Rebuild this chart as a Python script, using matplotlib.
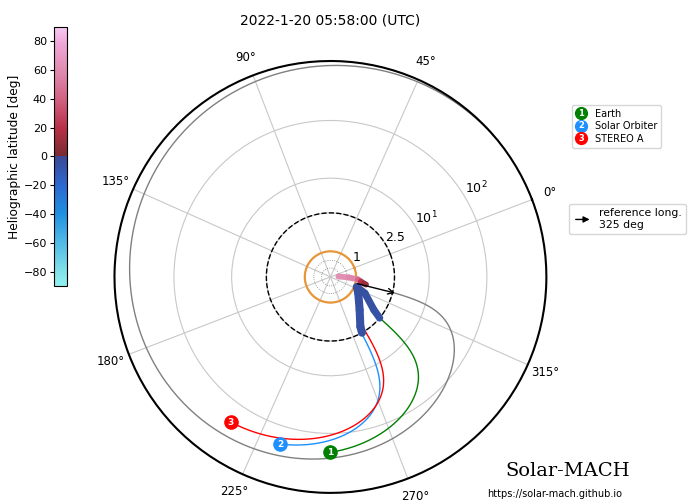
import numpy as np
import matplotlib
matplotlib.use("Agg")
import matplotlib.pyplot as plt
from matplotlib.colors import LinearSegmentedColormap, Normalize
from matplotlib.collections import LineCollection
from matplotlib.legend_handler import HandlerBase
from matplotlib.lines import Line2D
from matplotlib.text import Text
from matplotlib.patches import FancyArrowPatch
import matplotlib.cm as cm

# ---------------- data ----------------
title = "2022-1-20 05:58:00 (UTC)"
body_names = ["Earth", "Solar Orbiter", "STEREO A"]
body_colors = ["green", "dodgerblue", "red"]
body_lon = [249.0, 232.2, 214.5]      # Carrington longitude [deg]
body_r = [213.0, 206.0, 219.0]        # distance [R_sun]
body_vsw = [479.0, 507.0, 368.0]      # solar wind speed [km/s]
ref_long = 325.0
ref_vsw = 400.0
r_source = 2.5
r_max = 1075.0
rticks = [1, 2.5, 10, 100]
rtick_labels = ["1", "2.5", r"$10^1$", r"$10^2$"]
cbar_ticks = [-80, -60, -40, -20, 0, 20, 40, 60, 80]

# PFSS field-line bundles (projected lon [deg], projected r [R_sun], latitude [deg])
fl_north_lon = [342.6, 337.5, 333.8, 330.5, 328.0, 327.0]
fl_north_r = [0.31, 0.72, 1.08, 1.20, 1.32, 1.42]
fl_north_lat = [64, 60, 55, 30, 12, 8]
fl_west_lon = [318.3, 308.6, 290.5, 280.1, 278.5]
fl_west_r = [1.10, 1.26, 1.72, 2.26, 2.5]
fl_west_lat = [-4, -4, -5, -5, -5]
fl_east_lon = [318.3, 313.7, 301.8, 299.2]
fl_east_r = [1.10, 1.49, 2.13, 2.5]
fl_east_lat = [-4, -4, -5, -5]

# ---------------- colormap ----------------
cmap_colors = [
    (0.00, "#90f0f0"), (0.06, "#80e0ea"), (0.28, "#1e90e0"), (0.39, "#2c68d0"),
    (0.499, "#3a4a95"), (0.501, "#7a2a30"), (0.61, "#b83048"), (0.72, "#d06080"),
    (0.83, "#e08ab0"), (0.94, "#f0a8d8"), (1.00, "#f8c8f4"),
]
cmap = LinearSegmentedColormap.from_list("lat", cmap_colors)
norm = Normalize(-90, 90)

OMEGA = 2 * np.pi / (25.38 * 86400)  # rad/s
RSUN = 695700.0  # km


def spiral(lon_deg, r_body, vsw, r_from):
    r = np.geomspace(r_from, r_body, 400)
    phi = np.deg2rad(lon_deg) + OMEGA * (r_body - r) * RSUN / vsw
    return phi, r


fig = plt.figure(figsize=(6.91, 5.03), dpi=100)
ax = fig.add_axes([0.1657, 0.0199, 0.625, 0.859], projection="polar")
ax.set_rscale("symlog", linthresh=r_source)
ax.set_theta_offset(np.deg2rad(270 - body_lon[0]))

# sun and source surface
circ = np.linspace(0, 2 * np.pi, 300)
ax.plot(circ, np.ones_like(circ) * r_source, color="k", ls="--", lw=1.0, zorder=3)
ax.plot(circ, np.ones_like(circ), color="#e8963a", lw=1.6, zorder=3)
for rr in [0.35, 0.65]:
    ax.plot(circ, np.ones_like(circ) * rr, color="gray", ls=":", lw=0.6, zorder=2)


def draw_bundle(lon, r, lat, lw):
    th = np.deg2rad(lon)
    pts = np.array([th, r]).T.reshape(-1, 1, 2)
    segs = np.concatenate([pts[:-1], pts[1:]], axis=1)
    lc = LineCollection(segs, cmap=cmap, norm=norm, lw=lw, capstyle="round",
                        joinstyle="round", zorder=4)
    lc.set_array(0.5 * (np.array(lat[:-1]) + np.array(lat[1:])))
    ax.add_collection(lc)


draw_bundle(fl_north_lon, fl_north_r, fl_north_lat, 4.2)
draw_bundle(fl_west_lon, fl_west_r, fl_west_lat, 5.8)
draw_bundle(fl_east_lon, fl_east_r, fl_east_lat, 5.2)

# reference spiral (anchored at the source surface) and arrow
r_ref = np.geomspace(r_source, r_max, 600)
phi_ref = np.deg2rad(ref_long) - OMEGA * (r_ref - r_source) * RSUN / ref_vsw
ax.plot(phi_ref, r_ref, color="gray", lw=1.0, zorder=2)
ax.annotate("", xy=(np.deg2rad(ref_long), 3.07), xytext=(np.deg2rad(ref_long), 0.98),
            arrowprops=dict(arrowstyle="->", color="k", lw=1.0, mutation_scale=10), zorder=5)

# bodies
for i, (lon, rb, v, c) in enumerate(zip(body_lon, body_r, body_vsw, body_colors)):
    phi, r = spiral(lon, rb, v, r_source)
    ax.plot(phi, r, color=c, lw=1.0, zorder=3)
    ax.plot(np.deg2rad(lon), rb, "o", ms=9.5, color=c, zorder=6)
    ax.text(np.deg2rad(lon), rb, str(i + 1), color="white", fontsize=6.5, fontweight="bold",
            ha="center", va="center", zorder=7)

ax.set_rlim(0, r_max)
ax.set_rticks(rticks)
ax.set_yticklabels(rtick_labels, fontsize=9)
ax.set_rlabel_position(10)
ax.set_thetagrids(np.arange(0, 360, 45), [f"{d}°" for d in range(0, 360, 45)], fontsize=8.5)
ax.grid(True, color="#c8c8c8", lw=0.8)
ax.spines["polar"].set_linewidth(1.5)

fig.text(0.478, 0.96, title, ha="center", va="center", fontsize=10)


# legend handlers
class NumberHandler(HandlerBase):
    def __init__(self, num):
        super().__init__()
        self.num = num

    def create_artists(self, legend, orig_handle, xdescent, ydescent, width, height, fontsize, trans):
        x = 0.5 * width - xdescent
        y = 0.5 * height - ydescent
        m = Line2D([x], [y], marker="o", ms=8.5, ls="none", color=orig_handle.get_color(), transform=trans)
        t = Text(x, y, str(self.num), color="white", fontsize=6, fontweight="bold",
                 ha="center", va="center", transform=trans)
        return [m, t]


class ArrowHandler(HandlerBase):
    def create_artists(self, legend, orig_handle, xdescent, ydescent, width, height, fontsize, trans):
        y = 0.5 * height - ydescent
        a = FancyArrowPatch((-xdescent, y), (width - xdescent, y), arrowstyle="-|>",
                            mutation_scale=9, color="k", lw=1.0, transform=trans)
        return [a]


handles = [Line2D([], [], color=c, label=n) for n, c in zip(body_names, body_colors)]
leg = fig.legend(handles=handles, labels=body_names, loc="upper left",
                 bbox_to_anchor=(0.821, 0.801), fontsize=7, handlelength=1.0,
                 handletextpad=0.9, borderpad=0.4, labelspacing=0.25,
                 handler_map={h: NumberHandler(i + 1) for i, h in enumerate(handles)})
arrow_handle = Line2D([], [], color="k")
leg2 = fig.legend(handles=[arrow_handle], labels=[f"reference long.\n{int(ref_long)} deg"],
                  loc="upper left", bbox_to_anchor=(0.815, 0.605), fontsize=7.8,
                  handlelength=1.8, handletextpad=0.6, borderpad=0.4,
                  handler_map={arrow_handle: ArrowHandler()})

# colorbar
cax = fig.add_axes([0.0781, 0.4314, 0.0188, 0.515])
sm = cm.ScalarMappable(norm=norm, cmap=cmap)
cb = fig.colorbar(sm, cax=cax, ticks=cbar_ticks)
cax.yaxis.set_ticks_position("left")
cax.yaxis.set_label_position("left")
cax.tick_params(labelsize=8, length=3, pad=2)
cb.set_label("Heliographic latitude [deg]", fontsize=8.8, labelpad=2)

fig.text(0.822, 0.064, "Solar-MACH", fontfamily="serif", fontsize=14, ha="center", va="center")
fig.text(0.803, 0.018, "https://solar-mach.github.io", fontsize=7, ha="center", va="center")

fig.savefig("out.png", dpi=100)
